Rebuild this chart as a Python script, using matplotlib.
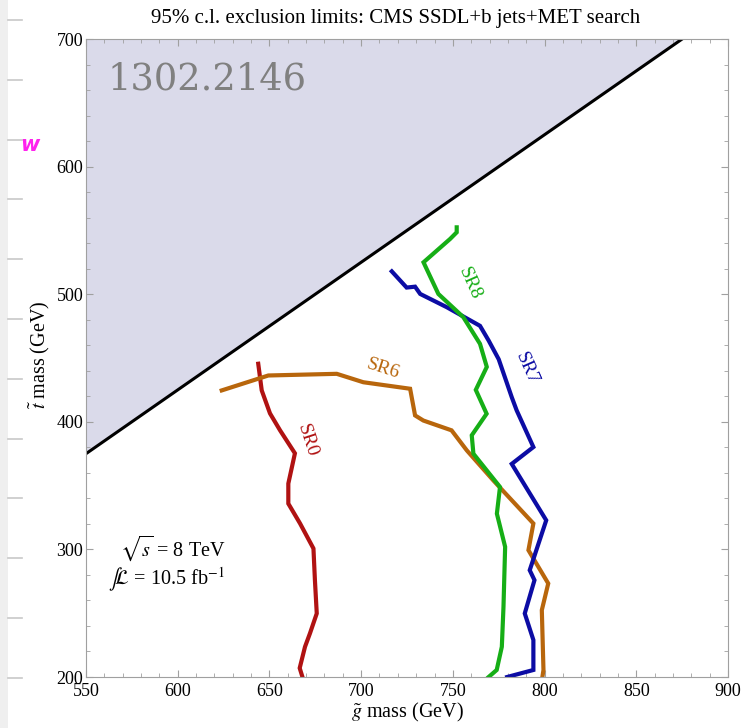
import numpy as np
import matplotlib
matplotlib.use("Agg")
import matplotlib.pyplot as plt
from matplotlib.ticker import MultipleLocator

plt.rcParams["font.family"] = ["Liberation Serif", "DejaVu Serif"]
plt.rcParams["mathtext.fontset"] = "stix"

# kinematic boundary  m_stop = m_gluino - m_top
edge_mg = [550, 875]
edge_mst = [375, 700]

# exclusion contours (gluino mass, stop mass)
sr0_mg = [643.9, 645.8, 650.3, 655.8, 663.9, 660.3, 660.3, 666.7, 674.0, 674.8, 675.8, 672.1, 669.4, 666.5, 668.0]
sr0_mst = [445.5, 424.6, 406.6, 393.3, 375.3, 351.6, 335.9, 320.3, 300.7, 275.9, 249.8, 234.2, 223.7, 207.0, 200.0]

sr6_mg = [624.0, 649.4, 686.7, 701.2, 726.7, 729.4, 733.9, 749.3, 757.6, 772.1, 793.9, 791.2, 802.0, 798.5, 799.4, 798.8]
sr6_mst = [424.6, 436.3, 437.6, 431.0, 425.9, 405.0, 401.0, 393.3, 377.6, 354.0, 320.3, 299.4, 273.3, 252.4, 205.5, 200.0]

sr7_mg = [716.7, 724.8, 729.4, 732.2, 746.7, 764.8, 769.5, 775.0, 782.1, 784.8, 793.9, 782.1, 800.9, 791.9, 794.5, 789.2, 793.9, 793.9, 779.6]
sr7_mst = [517.9, 505.2, 505.9, 500.2, 489.8, 475.2, 463.7, 449.0, 419.3, 408.9, 380.2, 367.0, 322.8, 283.7, 275.9, 249.8, 229.0, 205.5, 200.0]

sr8_mg = [752.1, 752.1, 748.5, 734.0, 742.1, 755.7, 764.8, 768.5, 762.5, 768.4, 760.3, 761.2, 775.7, 774.0, 778.5, 777.6, 776.7, 773.9, 769.5]
sr8_mst = [552.4, 548.5, 543.3, 525.0, 500.2, 482.0, 461.1, 443.0, 425.0, 406.3, 389.4, 375.0, 348.9, 328.0, 302.0, 255.0, 223.7, 205.5, 200.0]

regions = ["SR0", "SR6", "SR7", "SR8"]
colors = ["#b01212", "#b8660c", "#0c0ca4", "#16ae16"]
label_pos = [(670.7, 385.4), (712.0, 441.5), (790.3, 441.5), (759.0, 508.5)]
label_rot = [-72, -18, -66, -66]

fig = plt.figure(figsize=(7.42, 7.28), dpi=100)

# screenshot margin on the left
deco = fig.add_axes([0, 0, 1, 1])
deco.set_xlim(0, 742)
deco.set_ylim(728, 0)
deco.axis("off")
deco.axvspan(0, 8, color="#efefef", lw=0)
for yy in np.arange(20, 728, 59.8):
    deco.plot([8, 22], [yy, yy], color="#c8c8c8", lw=1.2)
deco.text(30, 145, "w", color="#ff22ee", fontsize=15, fontweight="bold",
          style="italic", ha="center", va="center", family="DejaVu Sans")

ax = fig.add_axes([86 / 742, 1 - 677 / 728, 642 / 742, 638 / 728])
ax.set_xlim(550, 900)
ax.set_ylim(200, 700)

ax.fill_between(edge_mg + [900], edge_mst + [700], 700, color="#dadaea", lw=0)
ax.plot(edge_mg, edge_mst, color="black", lw=2.2)

curves = [(sr0_mg, sr0_mst), (sr6_mg, sr6_mst), (sr7_mg, sr7_mst), (sr8_mg, sr8_mst)]
for (xs, ys), name, c, pos, rot in zip(curves, regions, colors, label_pos, label_rot):
    ax.plot(xs, ys, color=c, lw=3, solid_joinstyle="miter")
    ax.text(pos[0], pos[1], name, color=c, fontsize=14, rotation=rot,
            ha="center", va="center", rotation_mode="anchor")

ax.text(561.5, 668, "1302.2146", color="#808080", fontsize=26.5,
        family="DejaVu Serif", ha="left", va="center")
ax.text(568.5, 301, r"$\sqrt{s}$ = 8 TeV", fontsize=14.5, ha="left", va="center")
ax.text(562, 276, r"$\int\!\mathcal{L}$ = 10.5 fb$^{-1}$", fontsize=14.5, ha="left", va="center")

ax.xaxis.set_major_locator(MultipleLocator(50))
ax.xaxis.set_minor_locator(MultipleLocator(10))
ax.yaxis.set_major_locator(MultipleLocator(100))
ax.yaxis.set_minor_locator(MultipleLocator(20))
ax.tick_params(which="both", direction="in", top=True, right=True,
               color="#a0a0a0", labelsize=13)
ax.tick_params(which="major", length=5, width=0.8)
ax.tick_params(which="minor", length=3, width=0.6)
ax.tick_params(axis="x", pad=4)
ax.tick_params(axis="y", pad=2)
for s in ax.spines.values():
    s.set_color("#a0a0a0")
    s.set_linewidth(0.8)

fig.text(407 / 742, 1 - 712 / 728, r"$\tilde{g}$ mass (GeV)", fontsize=14.5,
         ha="center", va="center")
fig.text(40 / 742, 1 - 355 / 728, r"$\tilde{t}$ mass (GeV)", fontsize=14.5,
         ha="center", va="center", rotation=90)
fig.text(396 / 742, 1 - 18 / 728,
         "95% c.l. exclusion limits: CMS SSDL+b jets+MET search",
         fontsize=15, ha="center", va="center")

fig.savefig("out.png", dpi=100)
